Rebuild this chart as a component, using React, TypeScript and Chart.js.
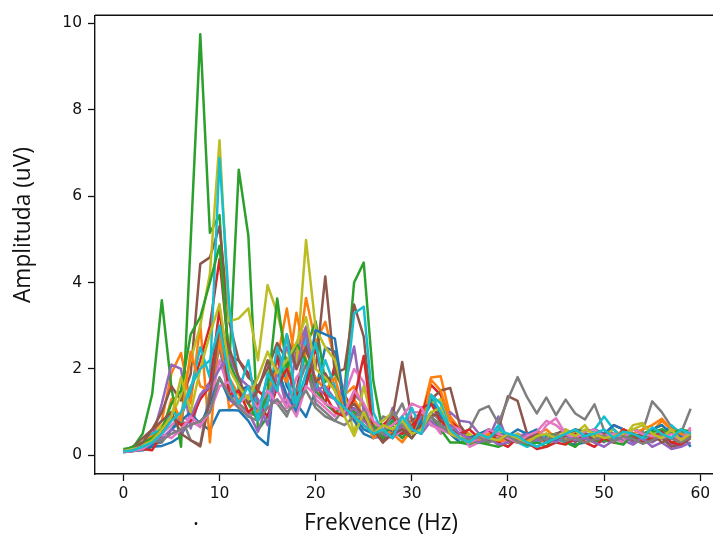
import React, { useEffect, useRef } from "react";
import { Chart, registerables } from "chart.js";

Chart.register(...registerables);

const FREQS = [0,1,2,3,4,5,6,7,8,9,10,11,12,13,14,15,16,17,18,19,20,21,22,23,24,25,26,27,28,29,30,31,32,33,34,35,36,37,38,39,40,41,42,43,44,45,46,47,48,49,50,51,52,53,54,55,56,57,58,59];

const X_TICKS = [0, 10, 20, 30, 40, 50, 60];
const Y_TICKS = [0, 2, 4, 6, 8, 10];

const COLORS = ["#1f77b4","#ff7f0e","#2ca02c","#d62728","#9467bd","#8c564b","#e377c2","#7f7f7f","#bcbd22","#17becf"];

const CH00 = [0.08,0.1,0.12,0.2,0.22,0.3,0.45,0.92,0.75,0.58,1.04,1.05,1.04,0.8,0.43,0.24,2.48,1.6,1.2,0.89,1.5,2.5,2.4,1.1,0.9,0.6,0.5,0.35,0.6,0.4,0.7,1.0,1.4,0.9,0.6,0.4,0.3,0.4,0.35,0.5,0.3,0.45,0.5,0.6,0.35,0.4,0.3,0.25,0.3,0.4,0.5,0.6,0.4,0.35,0.5,0.45,0.6,0.4,0.5,0.2];
const CH01 = [0.12,0.15,0.25,0.5,0.8,1.9,2.37,1.2,3.02,0.3,2.87,1.1,1.3,1.6,1.5,1.3,2.2,3.4,2.0,3.64,2.6,3.09,2.2,1.4,1.6,1.1,0.6,0.7,0.9,0.5,0.8,0.9,1.8,1.83,0.9,0.6,0.5,0.3,0.4,0.45,0.35,0.4,0.3,0.5,0.6,0.4,0.35,0.5,0.4,0.6,0.4,0.5,0.35,0.6,0.5,0.55,0.8,0.6,0.4,0.55];
const CH02 = [0.15,0.18,0.5,1.42,3.59,1.57,0.2,4.95,9.74,5.15,5.56,2.0,6.61,5.08,0.58,0.9,1.6,2.2,1.2,2.5,3.1,1.7,1.9,1.5,4.0,4.46,1.72,0.5,0.7,0.4,0.6,0.9,1.3,0.7,0.5,0.3,0.25,0.35,0.3,0.4,0.3,0.35,0.4,0.3,0.45,0.5,0.35,0.6,0.3,0.4,0.5,0.35,0.6,0.4,0.5,0.6,0.7,0.5,0.55,0.4];
const CH03 = [0.1,0.12,0.3,0.35,0.5,1.0,0.9,1.5,2.2,3.0,4.54,2.3,2.2,1.9,1.5,1.3,2.3,1.1,1.5,2.6,1.7,1.2,2.1,1.4,1.0,0.7,0.5,0.4,0.6,0.5,0.7,0.9,1.63,1.4,0.8,0.6,0.4,0.3,0.5,0.3,0.4,0.35,0.25,0.3,0.5,0.4,0.3,0.35,0.5,0.3,0.45,0.7,0.6,0.4,0.3,0.5,0.4,0.3,0.35,0.5];
const CH04 = [0.1,0.15,0.2,0.4,1.2,2.1,2.0,0.62,1.4,1.7,2.52,1.3,1.1,1.0,0.55,1.2,2.0,1.1,2.4,2.98,1.6,1.4,1.3,1.6,2.52,1.0,0.4,0.45,1.1,0.6,0.5,0.9,0.7,0.6,1.0,0.8,0.77,0.5,0.4,0.9,0.3,0.5,0.4,0.3,0.35,0.4,0.5,0.35,0.3,0.4,0.3,0.5,0.35,0.25,0.4,0.3,0.45,0.25,0.25,0.5];
const CH05 = [0.1,0.2,0.4,0.6,1.0,1.6,1.27,1.88,4.43,4.58,5.3,3.1,2.2,1.8,1.6,2.0,2.6,2.2,2.5,2.4,2.0,4.14,1.9,2.0,3.49,2.75,0.6,0.3,0.9,2.16,0.8,1.0,1.3,1.5,1.56,0.7,0.4,0.5,0.3,0.6,1.37,1.26,0.5,0.4,0.3,0.5,0.6,0.3,0.5,0.45,0.5,0.4,0.3,0.45,0.5,0.35,0.4,0.2,0.25,0.4];
const CH06 = [0.08,0.12,0.2,0.3,0.5,0.7,0.9,0.8,0.65,1.2,2.2,1.5,1.2,0.9,1.0,1.3,1.5,1.1,1.8,2.1,1.3,1.1,0.9,1.4,2.0,1.7,0.7,0.5,0.4,0.6,1.0,1.0,0.8,0.5,0.7,0.6,0.2,0.3,0.5,0.4,0.3,0.5,0.4,0.35,0.7,0.86,0.5,0.4,0.3,0.6,0.5,0.4,0.3,0.5,0.4,0.6,0.5,0.4,0.35,0.65];
const CH07 = [0.1,0.12,0.2,0.25,0.3,0.6,0.9,0.35,0.25,1.5,2.5,1.6,1.2,1.0,0.9,1.3,1.2,0.9,1.5,2.1,1.2,1.0,0.8,1.1,1.4,1.2,0.5,0.9,0.8,1.2,0.6,0.7,1.0,0.8,0.6,0.5,0.6,1.04,1.14,0.74,1.3,1.81,1.34,0.97,1.34,0.93,1.29,0.97,0.83,1.18,0.58,0.5,0.45,0.6,0.55,1.25,1.0,0.66,0.52,1.08];
const CH08 = [0.1,0.15,0.25,0.4,0.7,0.9,1.4,2.2,3.0,4.2,7.29,3.1,3.17,3.4,2.2,3.94,3.3,2.4,2.1,4.98,2.94,2.5,2.2,1.4,0.5,1.6,0.7,0.8,1.0,0.6,0.5,0.8,1.2,1.3,0.6,0.4,0.5,0.3,0.4,0.6,0.4,0.5,0.3,0.4,0.5,0.3,0.6,0.5,0.7,0.4,0.5,0.6,0.4,0.7,0.75,0.5,0.6,0.4,0.3,0.6];
const CH09 = [0.1,0.12,0.3,0.5,0.6,1.0,0.9,1.5,2.5,1.8,6.88,3.5,1.5,2.2,0.9,1.2,2.5,1.8,1.0,2.8,1.5,2.2,1.6,1.2,3.28,3.44,1.0,0.5,0.9,0.7,1.1,0.6,1.4,1.2,0.6,0.4,0.3,0.5,0.4,0.7,0.4,0.3,0.2,0.3,0.5,0.4,0.3,0.5,0.4,0.6,0.9,0.6,0.4,0.5,0.3,0.6,0.5,0.7,0.5,0.45];
const CH10 = [0.07,0.1,0.15,0.25,0.35,0.6,0.8,1.0,0.7,1.2,1.8,1.3,1.5,1.6,1.0,1.8,2.0,1.4,1.0,1.7,2.9,2.8,2.7,1.2,0.8,0.5,0.4,0.7,0.5,0.6,0.4,0.8,1.2,1.0,0.5,0.3,0.4,0.5,0.6,0.5,0.45,0.6,0.5,0.4,0.3,0.35,0.5,0.6,0.55,0.6,0.5,0.7,0.6,0.5,0.4,0.6,0.7,0.5,0.45,0.5];
const CH11 = [0.1,0.15,0.3,0.45,0.5,1.3,0.8,2.4,1.6,1.5,2.6,1.8,1.4,1.2,1.0,1.5,2.0,1.7,3.3,2.2,1.8,1.5,1.8,1.0,1.3,0.9,0.4,0.6,0.5,0.3,0.6,0.5,1.75,1.5,0.8,0.4,0.3,0.35,0.5,0.3,0.4,0.3,0.35,0.4,0.3,0.5,0.35,0.4,0.3,0.35,0.5,0.4,0.6,0.5,0.6,0.7,0.85,0.6,0.5,0.4];
const CH12 = [0.12,0.2,0.3,0.4,0.6,1.2,1.5,2.8,3.2,4.0,4.85,2.2,1.6,1.2,0.8,1.5,3.63,2.0,2.6,2.2,1.5,1.2,1.0,1.1,1.0,0.9,0.7,0.4,0.8,0.6,0.4,0.7,0.9,0.6,0.3,0.3,0.35,0.3,0.25,0.2,0.3,0.35,0.25,0.3,0.2,0.5,0.3,0.2,0.4,0.3,0.35,0.3,0.25,0.5,0.4,0.55,0.6,0.5,0.6,0.55];
const CH13 = [0.09,0.1,0.15,0.12,0.5,0.9,0.7,0.8,1.3,1.6,3.4,1.4,1.5,1.0,1.2,0.9,1.6,2.0,1.4,1.6,2.5,1.4,1.0,0.9,1.3,2.3,0.5,0.7,0.9,0.6,0.5,1.1,1.2,0.8,0.6,0.5,0.6,0.4,0.6,0.3,0.2,0.4,0.3,0.15,0.2,0.3,0.25,0.5,0.3,0.2,0.4,0.3,0.6,0.5,0.3,0.4,0.55,0.3,0.25,0.45];
const CH14 = [0.1,0.12,0.2,0.3,0.4,0.6,0.5,0.9,1.4,1.6,2.0,2.3,1.8,1.6,1.3,0.7,1.9,2.5,2.0,2.9,1.5,1.6,1.3,0.9,1.1,0.8,0.6,0.5,0.4,0.7,0.6,0.5,0.8,0.6,0.7,0.5,0.4,0.3,0.4,0.25,0.3,0.4,0.5,0.35,0.4,0.3,0.45,0.35,0.4,0.3,0.2,0.35,0.45,0.3,0.4,0.2,0.3,0.15,0.2,0.3];
const CH15 = [0.1,0.15,0.3,0.6,0.8,1.0,0.5,0.35,0.21,1.3,3.0,2.5,1.8,1.2,1.5,2.2,1.5,2.8,2.0,2.5,1.7,1.9,1.5,1.0,1.2,0.9,0.6,0.3,0.5,0.6,0.4,0.7,0.9,1.0,0.5,0.4,0.3,0.5,0.4,0.5,0.35,0.3,0.4,0.5,0.3,0.4,0.45,0.6,0.5,0.35,0.5,0.4,0.5,0.35,0.45,0.5,0.3,0.4,0.3,0.45];
const CH16 = [0.08,0.1,0.15,0.3,0.5,0.4,0.6,0.9,0.7,1.0,1.6,1.7,1.2,1.4,1.1,1.5,1.2,1.3,0.9,1.6,1.4,1.2,1.1,1.0,1.5,1.2,0.8,0.6,0.7,0.9,1.2,1.1,0.7,0.6,0.5,0.4,0.3,0.4,0.6,0.5,0.4,0.3,0.45,0.55,0.8,0.7,0.5,0.4,0.55,0.6,0.45,0.5,0.4,0.6,0.5,0.45,0.4,0.5,0.35,0.6];
const CH17 = [0.1,0.12,0.2,0.3,0.35,0.5,0.6,0.7,0.8,1.0,1.8,1.4,1.1,0.9,0.8,1.1,1.3,1.0,1.2,1.5,1.1,0.9,0.8,0.7,0.9,1.0,0.6,0.5,1.0,0.7,0.5,0.6,0.9,0.7,0.5,0.4,0.35,0.42,0.3,0.38,0.45,0.32,0.28,0.4,0.36,0.5,0.33,0.41,0.29,0.37,0.46,0.31,0.44,0.38,0.27,0.35,0.48,0.39,0.3,0.42];
const CH18 = [0.1,0.15,0.2,0.35,0.6,0.9,1.8,1.0,2.0,2.8,3.5,2.0,1.6,1.3,1.8,2.4,1.9,2.2,2.6,3.2,2.0,1.8,1.5,0.9,0.45,1.0,0.5,0.7,0.6,0.8,0.5,0.6,1.0,1.1,0.5,0.4,0.3,0.5,0.4,0.35,0.5,0.4,0.3,0.45,0.5,0.4,0.55,0.45,0.6,0.5,0.4,0.45,0.5,0.6,0.7,0.5,0.4,0.6,0.35,0.5];
const CH19 = [0.09,0.12,0.2,0.3,0.5,0.8,1.0,1.6,2.0,2.2,3.0,1.8,1.2,1.6,0.8,1.9,1.5,2.8,1.2,1.9,2.6,1.5,1.3,1.1,0.9,0.7,0.5,0.6,0.4,0.9,0.6,0.5,1.4,1.0,0.6,0.4,0.3,0.5,0.4,0.6,0.5,0.45,0.3,0.2,0.3,0.4,0.5,0.6,0.45,0.5,0.6,0.4,0.55,0.5,0.4,0.65,0.5,0.4,0.6,0.5];

const SERIES = [CH00,CH01,CH02,CH03,CH04,CH05,CH06,CH07,CH08,CH09,CH10,CH11,CH12,CH13,CH14,CH15,CH16,CH17,CH18,CH19];

const X_TITLE = "Frekvence (Hz)";
const Y_TITLE = "Amplituda (uV)";

const CANVAS_W = 740;
const CANVAS_H = 538;

export default function App() {
  const ref = useRef<HTMLCanvasElement | null>(null);

  useEffect(() => {
    if (!ref.current) return;
    const datasets = SERIES.map((vals, i) => ({
      label: "ch" + i,
      data: vals.map((v, j) => ({ x: FREQS[j], y: v })),
      borderColor: COLORS[i % 10],
      backgroundColor: COLORS[i % 10],
      borderWidth: 2.5,
      pointRadius: 0,
      tension: 0,
      fill: false,
      borderJoinStyle: "round" as const,
      order: -i,
    }));

    const framePlugin = {
      id: "frame",
      afterDraw(chart: any) {
        const { ctx, chartArea } = chart;
        ctx.save();
        ctx.strokeStyle = "#111";
        ctx.lineWidth = 1.4;
        ctx.beginPath();
        ctx.moveTo(chartArea.left, chartArea.top);
        ctx.lineTo(chartArea.right, chartArea.top);
        ctx.lineTo(chartArea.right, chartArea.bottom);
        ctx.stroke();

        ctx.fillStyle = "#111";
        ctx.font = '21px "Open Sans"';
        const w = ctx.measureText(X_TITLE).width;
        const size = 21 * 154 / w;
        ctx.font = size.toFixed(2) + 'px "Open Sans"';
        ctx.textAlign = "center";
        ctx.textBaseline = "alphabetic";
        ctx.fillText(X_TITLE, 381, 530);
        ctx.fillText(".", 196, 525);

        ctx.translate(30, 225);
        ctx.rotate(-Math.PI / 2);
        ctx.fillText(Y_TITLE, 0, 0);
        ctx.restore();
      },
    };

    const tickFont = { family: "DejaVu Sans", size: 15.5 };

    const chart = new Chart(ref.current, {
      type: "line",
      data: { datasets },
      options: {
        animation: false,
        responsive: false,
        devicePixelRatio: 1,
        layout: { padding: { left: 0, top: 10, right: CANVAS_W - 719, bottom: 0 } },
        plugins: { legend: { display: false }, tooltip: { enabled: false } },
        scales: {
          x: {
            type: "linear",
            min: -2.95,
            max: 61.95,
            afterBuildTicks: (s: any) => { s.ticks = X_TICKS.map((v) => ({ value: v })); },
            afterFit: (s: any) => { s.height = 64; },
            grid: { drawOnChartArea: false, drawTicks: true, tickLength: 7, tickColor: "#111", tickWidth: 1.3 },
            border: { display: true, color: "#111", width: 1.4 },
            ticks: { font: tickFont, color: "#111", padding: 4, maxRotation: 0, autoSkip: false },
          },
          y: {
            type: "linear",
            min: -0.43,
            max: 10.18,
            afterBuildTicks: (s: any) => { s.ticks = Y_TICKS.map((v) => ({ value: v })); },
            afterFit: (s: any) => { s.width = 95; },
            grid: { drawOnChartArea: false, drawTicks: true, tickLength: 7, tickColor: "#111", tickWidth: 1.3 },
            border: { display: true, color: "#111", width: 1.4 },
            ticks: { font: tickFont, color: "#111", padding: 6, autoSkip: false },
          },
        },
      },
      plugins: [framePlugin],
    } as any);

    return () => chart.destroy();
  }, []);

  return (
    <div style={{ position: "fixed", left: 0, top: 0, width: 713, height: 538, overflow: "hidden", background: "#fff" }}>
      <canvas ref={ref} width={CANVAS_W} height={CANVAS_H} style={{ display: "block", width: CANVAS_W, height: CANVAS_H }} />
    </div>
  );
}
